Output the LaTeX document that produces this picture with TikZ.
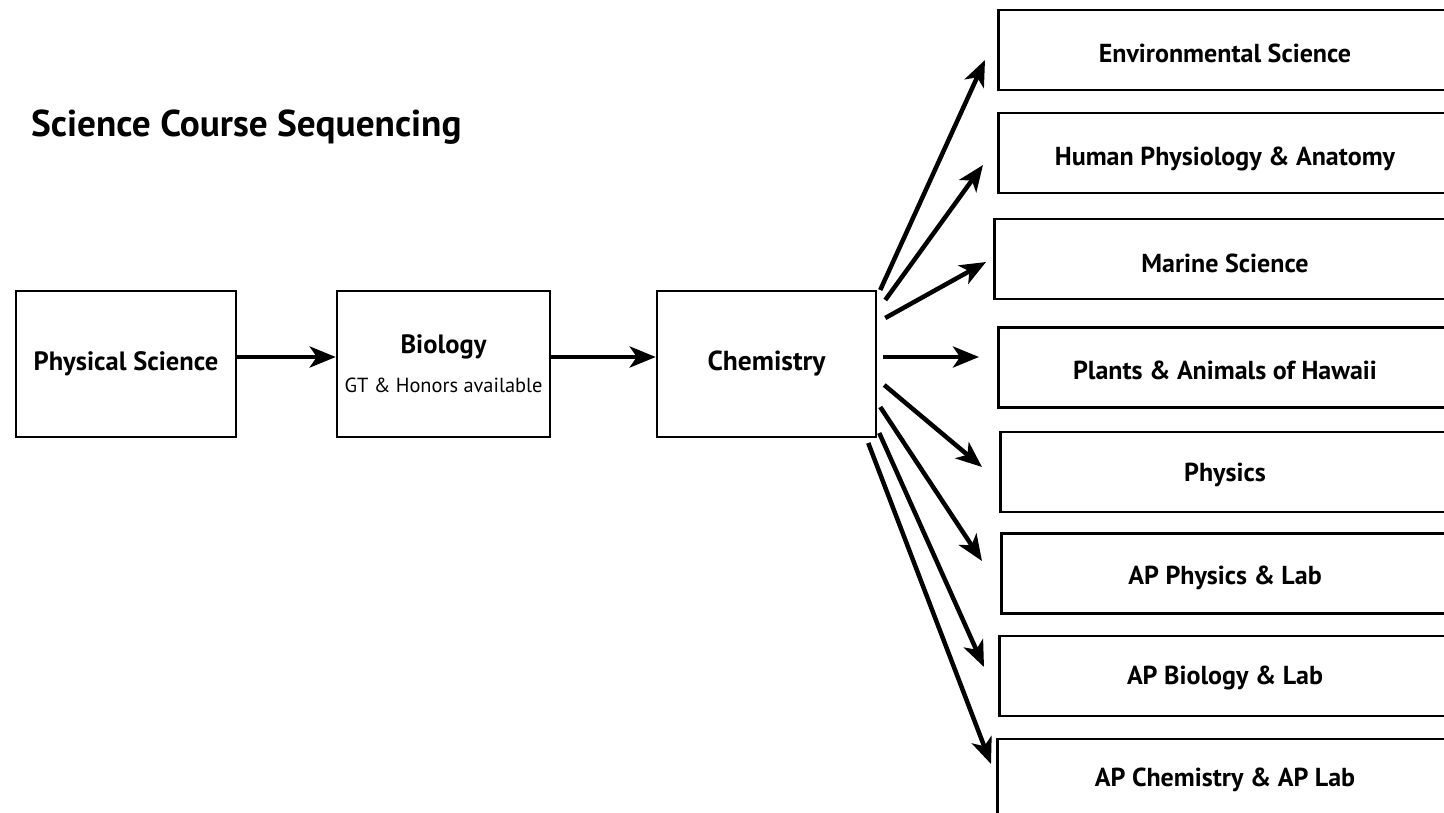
\documentclass[tikz,border=0pt]{standalone}
\usepackage{fontspec}
\setmainfont{PT Sans}
\usetikzlibrary{arrows.meta,calc}
\begin{document}
\begin{tikzpicture}[x=1pt,y=-1pt,
  box/.style={draw,line width=2.5pt,minimum width=220pt,minimum height=146pt,
    inner sep=0pt,align=center,font=\bfseries\fontsize{26.5}{30}\selectfont},
  course/.style={draw,line width=2.5pt,anchor=west,minimum width=600pt,
    minimum height=80pt,inner sep=0pt},
  course text/.style={anchor=center,font=\bfseries\fontsize{26}{30}\selectfont},
  flow/.style={line width=4.5pt,-{Stealth[length=26pt,width=21pt,inset=7pt]}}]
\useasboundingbox (0,0) rectangle (1444,813);
\clip (0,0) rectangle (1444,813);

% heading
\node[anchor=base west,inner sep=0pt,font=\bfseries\fontsize{37.3}{42}\selectfont]
  (title) at (31,137) {Science Course Sequencing};

% main sequence
\node[box] (phys) at (126,364) {Physical Science};
\node[box,minimum width=213pt] (bio) at (443.5,364)
  {Biology\\[9pt]{\mdseries\fontsize{20.4}{22}\selectfont GT \& Honors available}};
\node[box,minimum width=219pt,font=\bfseries\fontsize{27.5}{30}\selectfont]
  (chem) at (766.5,364) {Chemistry};

\draw[flow] ([yshift=7pt]phys.east) -- ([yshift=7pt]bio.west);
\draw[flow] ([yshift=7pt]bio.east) -- ([yshift=7pt]chem.west);

% courses after chemistry; the boxes run past the right edge,
% so each title is centred on the part that shows
\node[course] (env) at (997,50)    {};
\node[course] (hum) at (997,153)   {};
\node[course] (mar) at (993,259)   {};
\node[course] (pla) at (997,367.5) {};
\node[course] (phy) at (999,472)   {};
\node[course] (app) at (1000,573.5){};
\node[course] (apb) at (998,676)   {};
\node[course] (apc) at (996,779)   {};
\node[course text] (envt) at ($(env.west)+(228,3)$) {Environmental Science};
\node[course text] (humt) at ($(hum.west)+(228,6)$) {Human Physiology \& Anatomy};
\node[course text] (mart) at ($(mar.west)+(232,4)$) {Marine Science};
\node[course text] (plat) at ($(pla.west)+(228,3)$) {Plants \& Animals of Hawaii};
\node[course text] (phyt) at ($(phy.west)+(226,3)$) {Physics};
\node[course text] (appt) at ($(app.west)+(225,4)$) {AP Physics \& Lab};
\node[course text] (apbt) at ($(apb.west)+(227,2)$) {AP Biology \& Lab};
\node[course text] (apct) at ($(apc.west)+(229,1)$) {AP Chemistry \& AP Lab};

\draw[flow] ($(chem.east)+(3,-74)$) -- ($(env.west)+(-12,10)$);
\draw[flow] ($(chem.east)+(8,-64)$) -- ($(hum.west)+(-14,12)$);
\draw[flow] ($(chem.east)+(8,-46)$) -- ($(mar.west)+(-7,3)$);
\draw[flow] ($(chem.east)+(6,-7)$)  -- ($(pla.west)+(-18,-10.5)$);
\draw[flow] ($(chem.east)+(7,21)$)  -- ($(phy.west)+(-17,-5)$);
\draw[flow] ($(chem.east)+(3,43)$)  -- ($(app.west)+(-18,-12.5)$);
\draw[flow] ($(chem.east)+(2,69)$)  -- ($(apb.west)+(-14,-9)$);
\draw[flow] ($(chem.east)+(-9,79)$) -- ($(apc.west)+(-5,-15)$);
\end{tikzpicture}
\end{document}
